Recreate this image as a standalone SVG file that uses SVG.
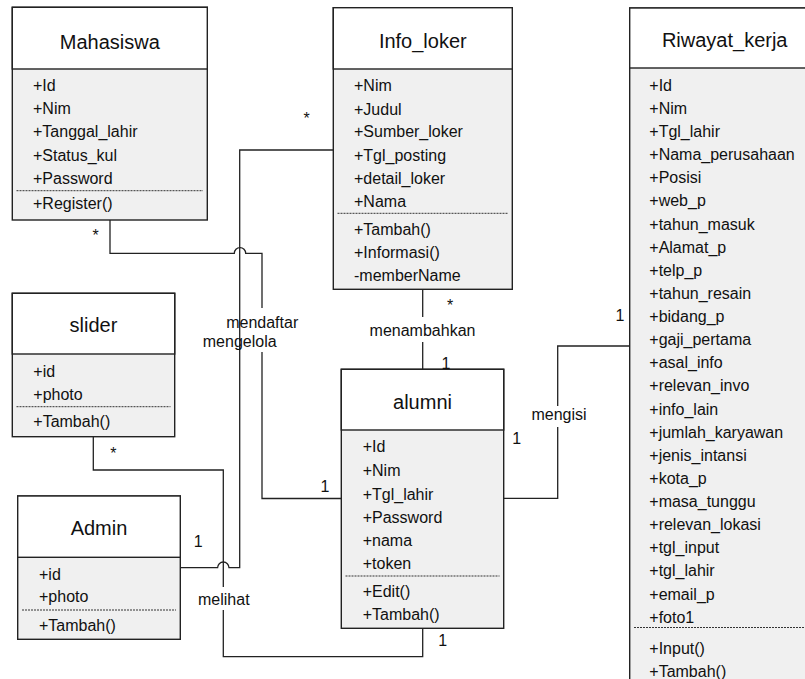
<svg xmlns="http://www.w3.org/2000/svg" width="805" height="679" viewBox="0 0 805 679">
<style>
.hd{fill:#ffffff;stroke:#222;stroke-width:1.4}
.bd{fill:#f0f0f0;stroke:#222;stroke-width:1.4}
.dsh{stroke:#333;stroke-width:1;stroke-dasharray:2,1;fill:none}
.ttl{font-family:"Liberation Sans",Arial,sans-serif;font-size:20px;fill:#111;text-anchor:middle}
.at{font-family:"Liberation Sans",Arial,sans-serif;font-size:16px;fill:#111}
.lb{font-family:"Liberation Sans",Arial,sans-serif;font-size:16px;fill:#111;text-anchor:middle}
.cn{fill:none;stroke:#222;stroke-width:1.3}
.bg{fill:#ffffff}
</style>
<rect x="0" y="0" width="805" height="679" fill="#ffffff"/>

<g id="Mahasiswa">
<rect class="bd" x="12.3" y="7.3" width="195" height="212.7"/>
<rect class="hd" x="12.3" y="7.3" width="195" height="61.7"/>
<text class="ttl" x="109.8" y="48.7">Mahasiswa</text>
<text class="at" x="33" y="90.7">+Id</text>
<text class="at" x="33" y="114">+Nim</text>
<text class="at" x="33" y="137.4">+Tanggal_lahir</text>
<text class="at" x="33" y="160.7">+Status_kul</text>
<text class="at" x="33" y="184">+Password</text>
<line class="dsh" x1="16.5" y1="190.7" x2="203" y2="190.7"/>
<text class="at" x="33" y="209">+Register()</text>
</g>

<g id="Info_loker">
<rect class="bd" x="333.3" y="7.7" width="179" height="281.6"/>
<rect class="hd" x="333.3" y="7.7" width="179" height="61.3"/>
<text class="ttl" x="422.8" y="47.7">Info_loker</text>
<text class="at" x="354" y="91.4">+Nim</text>
<text class="at" x="354" y="114.7">+Judul</text>
<text class="at" x="354" y="137.4">+Sumber_loker</text>
<text class="at" x="354" y="160.7">+Tgl_posting</text>
<text class="at" x="354" y="184">+detail_loker</text>
<text class="at" x="354" y="207.4">+Nama</text>
<line class="dsh" x1="337.5" y1="213.3" x2="508" y2="213.3"/>
<text class="at" x="354" y="235">+Tambah()</text>
<text class="at" x="354" y="258.4">+Informasi()</text>
<text class="at" x="354" y="281">-memberName</text>
</g>

<g id="Riwayat_kerja">
<rect class="bd" x="629.7" y="8" width="190" height="700"/>
<rect class="hd" x="629.7" y="8" width="190" height="60"/>
<text class="ttl" x="724.7" y="47">Riwayat_kerja</text>
<text class="at" x="649.3" y="90.7">+Id</text>
<text class="at" x="649.3" y="113.8">+Nim</text>
<text class="at" x="649.3" y="137">+Tgl_lahir</text>
<text class="at" x="649.3" y="160.1">+Nama_perusahaan</text>
<text class="at" x="649.3" y="183.2">+Posisi</text>
<text class="at" x="649.3" y="206.4">+web_p</text>
<text class="at" x="649.3" y="229.5">+tahun_masuk</text>
<text class="at" x="649.3" y="252.6">+Alamat_p</text>
<text class="at" x="649.3" y="275.7">+telp_p</text>
<text class="at" x="649.3" y="298.9">+tahun_resain</text>
<text class="at" x="649.3" y="322">+bidang_p</text>
<text class="at" x="649.3" y="345.1">+gaji_pertama</text>
<text class="at" x="649.3" y="368.3">+asal_info</text>
<text class="at" x="649.3" y="391.4">+relevan_invo</text>
<text class="at" x="649.3" y="414.5">+info_lain</text>
<text class="at" x="649.3" y="437.7">+jumlah_karyawan</text>
<text class="at" x="649.3" y="460.8">+jenis_intansi</text>
<text class="at" x="649.3" y="483.9">+kota_p</text>
<text class="at" x="649.3" y="507">+masa_tunggu</text>
<text class="at" x="649.3" y="530.2">+relevan_lokasi</text>
<text class="at" x="649.3" y="553.3">+tgl_input</text>
<text class="at" x="649.3" y="576.4">+tgl_lahir</text>
<text class="at" x="649.3" y="599.6">+email_p</text>
<text class="at" x="649.3" y="622.7">+foto1</text>
<line class="dsh" x1="634" y1="627.5" x2="805" y2="627.5"/>
<text class="at" x="649.3" y="653.7">+Input()</text>
<text class="at" x="649.3" y="676.7">+Tambah()</text>
</g>

<g id="slider">
<rect class="bd" x="12.3" y="293.3" width="162.4" height="143.4"/>
<rect class="hd" x="12.3" y="293.3" width="162.4" height="60.7"/>
<text class="ttl" x="93.5" y="332">slider</text>
<text class="at" x="33.3" y="377.4">+id</text>
<text class="at" x="33.3" y="400">+photo</text>
<line class="dsh" x1="16.5" y1="406.7" x2="170.5" y2="406.7"/>
<text class="at" x="33.3" y="427.4">+Tambah()</text>
</g>

<g id="Admin">
<rect class="bd" x="17.7" y="496" width="162.6" height="143.3"/>
<rect class="hd" x="17.7" y="496" width="162.6" height="61.3"/>
<text class="ttl" x="99" y="535.3">Admin</text>
<text class="at" x="39" y="580">+id</text>
<text class="at" x="39" y="602.4">+photo</text>
<line class="dsh" x1="22" y1="610" x2="176" y2="610"/>
<text class="at" x="39" y="630.7">+Tambah()</text>
</g>

<g id="alumni">
<rect class="bd" x="341.3" y="369.3" width="162.4" height="259"/>
<rect class="hd" x="341.3" y="369.3" width="162.4" height="60.7"/>
<text class="ttl" x="422.5" y="408.7">alumni</text>
<text class="at" x="362.7" y="452.4">+Id</text>
<text class="at" x="362.7" y="475.7">+Nim</text>
<text class="at" x="362.7" y="499.7">+Tgl_lahir</text>
<text class="at" x="362.7" y="523">+Password</text>
<text class="at" x="362.7" y="545.7">+nama</text>
<text class="at" x="362.7" y="569">+token</text>
<line class="dsh" x1="345.5" y1="576" x2="499.5" y2="576"/>
<text class="at" x="362.7" y="597.4">+Edit()</text>
<text class="at" x="362.7" y="620">+Tambah()</text>
</g>

<g id="connectors">
<!-- Mahasiswa - alumni (mendaftar) -->
<path class="cn" d="M110,220 V253.3 H234.3 A5.7,5.7 0 0 1 245.7,253.3 H262 V498.5 H341.3"/>
<!-- slider - alumni (melihat) -->
<path class="cn" d="M93.3,436.7 V470 H223.3 V656.7 H422.7 V628.3"/>
<!-- Info_loker - alumni (menambahkan) -->
<path class="cn" d="M422.7,289.3 V369.3"/>
<!-- alumni - Riwayat_kerja (mengisi) -->
<path class="cn" d="M503.7,498.3 H557.7 V346 H629.7"/>
<!-- label backgrounds -->
<rect class="bg" x="223" y="308" width="78" height="24"/>
<rect class="bg" x="205" y="332" width="70" height="20"/>
<rect class="bg" x="366" y="317" width="113" height="25"/>
<rect class="bg" x="529" y="406" width="60" height="21"/>
<rect class="bg" x="195" y="587" width="57" height="23"/>
<!-- Admin - Info_loker (mengelola) -->
<path class="cn" d="M180.3,567.7 H217.6 A5.7,5.7 0 0 1 229,567.7 H239.7 V150 H333.3"/>
<!-- labels -->
<text class="lb" x="262.2" y="327.5">mendaftar</text>
<text class="lb" x="239.7" y="347">mengelola</text>
<text class="lb" x="422.5" y="336">menambahkan</text>
<text class="lb" x="559" y="419.5">mengisi</text>
<text class="lb" x="223.8" y="604.5">melihat</text>
<!-- multiplicities -->
<text class="lb" x="95.5" y="240.5">*</text>
<text class="lb" x="306.7" y="124">*</text>
<text class="lb" x="198.3" y="547.4">1</text>
<text class="lb" x="113.3" y="459">*</text>
<text class="lb" x="442.7" y="645.7">1</text>
<text class="lb" x="450" y="311">*</text>
<text class="lb" x="446" y="369">1</text>
<text class="lb" x="325" y="492.4">1</text>
<text class="lb" x="516.7" y="444">1</text>
<text class="lb" x="620" y="320.7">1</text>
</g>
</svg>
